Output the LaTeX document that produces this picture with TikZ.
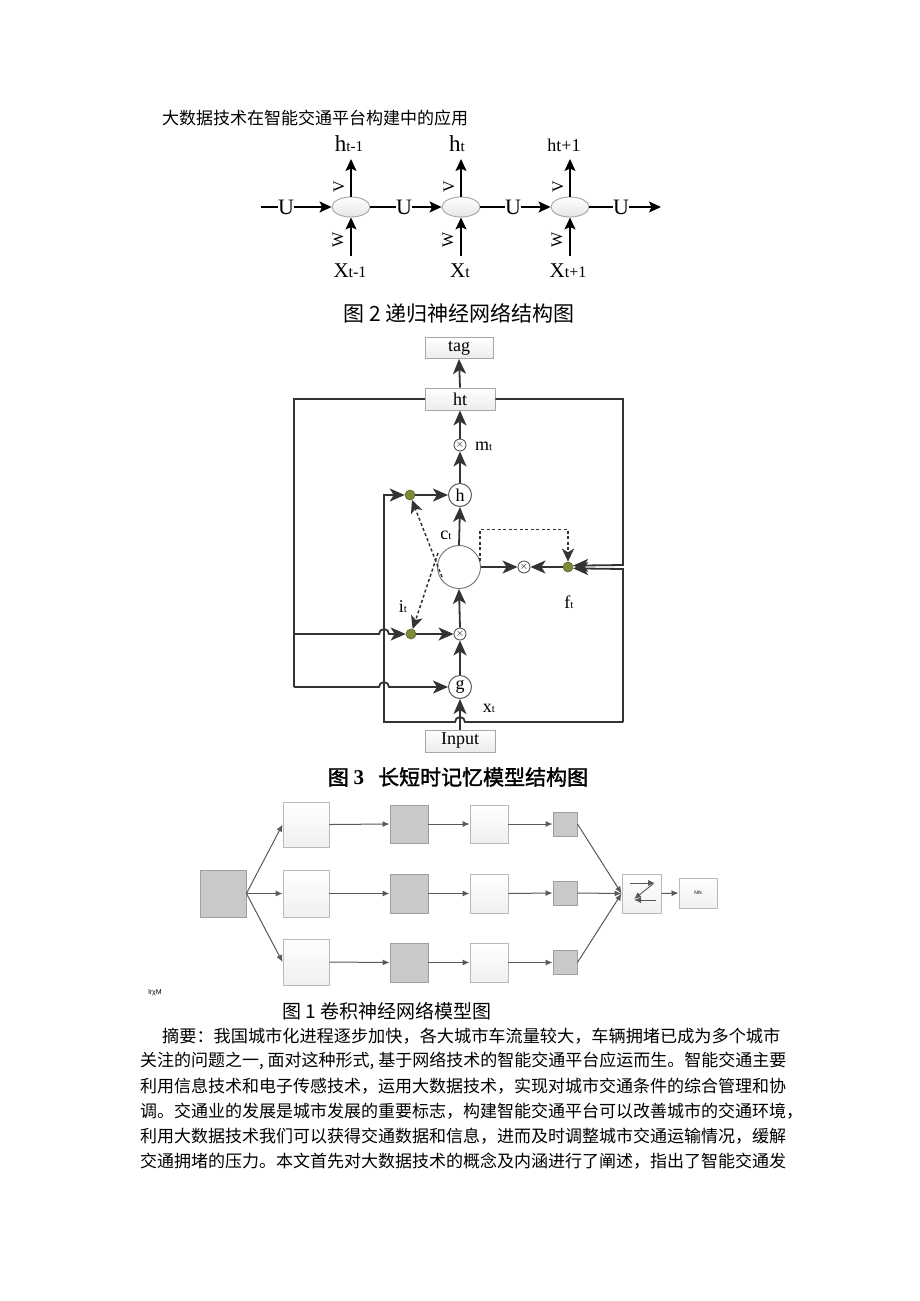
\documentclass[tikz,border=0pt]{standalone}
\usepackage{fontspec}
\setmainfont{Liberation Serif}
\newfontfamily\cjk{Noto Sans CJK SC}
\newfontfamily\cjkb[FakeBold=1.6]{Noto Sans CJK SC}
\newfontfamily\lsans{Liberation Sans}
\usetikzlibrary{arrows.meta,shapes.geometric}
\tikzset{
  rnncell/.style={ellipse, draw=gray!70, top color=white, bottom color=gray!20, line width=0.9pt, minimum width=38pt, minimum height=20pt, inner sep=0pt},
  rnnline/.style={draw=black, line width=1.3pt},
  rnnarr/.style={rnnline, -{Stealth[length=12pt,width=11pt,inset=2.5pt]}},
  ulbl/.style={inner sep=0pt, font=\fontsize{22}{22}\selectfont},
  vw/.style={inner sep=0pt, rotate=90, font=\fontsize{16}{16}\selectfont},
  lline/.style={draw=black!80, line width=1.8pt},
  larr/.style={lline, -{Stealth[length=15pt,width=13pt,inset=4pt]}},
  ldash/.style={draw=black!80, line width=1.5pt, dash pattern=on 3pt off 2.5pt, -{Stealth[length=13pt,width=12pt,inset=3.5pt]}},
  gdot/.style={circle, fill=olivegreen, draw=olivedark, line width=0.6pt, minimum size=10pt, inner sep=0pt},
  lcirc/.style={circle, draw=black!65, fill=white, line width=1pt, minimum size=23pt, inner sep=0pt, font=\fontsize{18}{18}\selectfont},
  otim/.style={circle, draw=black!65, fill=white, line width=0.9pt, minimum size=12pt, inner sep=0pt, font=\fontsize{11}{11}\selectfont},
  lbox/.style={rectangle, draw=gray!70, top color=white, bottom color=gray!15, line width=0.9pt, minimum width=70pt, minimum height=22pt, inner sep=0pt, font=\fontsize{18}{18}\selectfont},
  cwhite/.style={rectangle, draw=gray!55, top color=white, bottom color=gray!12, line width=0.9pt, inner sep=0pt},
  cgray/.style={rectangle, draw=gray!75, fill=gray!42, line width=0.9pt, inner sep=0pt},
  carr/.style={draw=black!65, line width=1pt, -{Latex[length=7pt,width=6pt]}},
  body/.style={anchor=west, inner sep=0pt, font=\cjk\fontsize{17}{17}\selectfont},
}
\definecolor{olivegreen}{HTML}{7B8C3C}
\definecolor{olivedark}{HTML}{56632A}
\begin{document}
\begin{tikzpicture}[x=1pt,y=-1pt]
\useasboundingbox[fill=white] (0,0) rectangle (920,1301);

% header
\node[anchor=west, inner sep=0pt, font=\cjk\fontsize{17}{17}\selectfont] (hdr) at (162,118) {大数据技术在智能交通平台构建中的应用};

% ---------------- RNN ----------------
\node[rnncell] (c1) at (351,207) {};
\node[rnncell] (c2) at (461,207) {};
\node[rnncell] (c3) at (570,207) {};
\coordinate (s0) at (261,207);
\node[ulbl] (u0) at (286,207) {U};
\node[ulbl] (u1) at (404,207) {U};
\node[ulbl] (u2) at (513,207) {U};
\node[ulbl] (u3) at (621,207) {U};
\coordinate (e3) at (661,207);
\draw[rnnline] (s0) -- (u0.west);
\draw[rnnarr] (u0.east) -- (c1.west);
\draw[rnnline] (c1.east) -- (u1.west);
\draw[rnnarr] (u1.east) -- (c2.west);
\draw[rnnline] (c2.east) -- (u2.west);
\draw[rnnarr] (u2.east) -- (c3.west);
\draw[rnnline] (c3.east) -- (u3.west);
\draw[rnnarr] (u3.east) -- (e3);

\foreach \i/\x in {1/351,2/461,3/570}{
  \coordinate (top\i) at (\x,159);
  \coordinate (bot\i) at (\x,256);
  \draw[rnnarr] (c\i.north) -- (top\i);
  \draw[rnnarr] (bot\i) -- (c\i.south);
  \node[vw] (v\i) at (\x-12,187) {V};
  \node[vw] (w\i) at (\x-13,240) {W};
}
\node[inner sep=0pt] (h1) at (349,144) {\fontsize{23}{23}\selectfont h\fontsize{15}{15}\selectfont t-1};
\node[inner sep=0pt] (h2) at (457,144) {\fontsize{23}{23}\selectfont h\fontsize{15}{15}\selectfont t};
\node[inner sep=0pt] (h3) at (564,145) {\fontsize{18}{18}\selectfont ht+1};
\node[inner sep=0pt] (x1) at (350,271) {\fontsize{21}{21}\selectfont X\fontsize{16}{16}\selectfont t-1};
\node[inner sep=0pt] (x2) at (460,271) {\fontsize{21}{21}\selectfont X\fontsize{16}{16}\selectfont t};
\node[inner sep=0pt] (x3) at (568,271) {\fontsize{21}{21}\selectfont X\fontsize{16}{16}\selectfont t+1};

\node[inner sep=0pt, font=\cjk\fontsize{21}{21}\selectfont] (cap2) at (459,313) {图 2 递归神经网络结构图};

% ---------------- LSTM ----------------
\node[lbox, minimum width=68pt, minimum height=21pt] (tag) at (459,348) {tag};
\node[lbox] (ht) at (460,399) {ht};
\node[otim] (m) at (460,445) {$\times$};
\node[inner sep=0pt, anchor=west] (ml) at (475,446) {\fontsize{18}{18}\selectfont m\fontsize{11}{11}\selectfont t};
\node[lcirc] (h) at (460,495) {h};
\node[gdot] (gtop) at (410,495) {};
\node[circle, draw=black!55, fill=white, line width=0.9pt, minimum size=43pt, inner sep=0pt] (cell) at (459,567) {};
\node[otim] (xr) at (524,567) {$\times$};
\node[gdot] (fdot) at (568,567) {};
\node[gdot] (idot) at (411,634) {};
\node[otim] (xl) at (460,634) {$\times$};
\node[lcirc] (g) at (460,687) {g};
\node[lbox] (input) at (460,741) {Input};
\node[inner sep=0pt] (ctl) at (446,535) {\fontsize{18}{18}\selectfont c\fontsize{11}{11}\selectfont t};
\node[inner sep=0pt] (itl) at (403,607) {\fontsize{18}{18}\selectfont i\fontsize{11}{11}\selectfont t};
\node[inner sep=0pt] (ftl) at (569,602) {\fontsize{18}{18}\selectfont f\fontsize{11}{11}\selectfont t};
\node[inner sep=0pt] (xtl) at (489,708) {\fontsize{18}{18}\selectfont x\fontsize{11}{11}\selectfont t};

\draw[larr] (ht.north) -- (tag.south);
\draw[larr] (m.north) -- (ht.south);
\draw[larr] (h.north) -- (m.south);
\draw[larr] (cell.north) -- (h.south);
\draw[larr] (xl.north) -- (cell.south);
\draw[larr] (g.north) -- (xl.south);
\draw[larr] (input.north) -- (g.south);
\draw[larr] (cell.east) -- (xr.west);
\draw[larr] (fdot.west) -- (xr.east);
\draw[larr] (gtop.east) -- (h.west);
\draw[larr] (idot.east) -- (xl.west);

\coordinate (L1) at (294,399);
\coordinate (L2) at (294,634);
\coordinate (L3) at (294,687);
\coordinate (R1) at (623,399);
\coordinate (R2) at (623,565);
\coordinate (R3) at (623,569);
\coordinate (R4) at (623,722);
\coordinate (B1) at (384,722);
\coordinate (B2) at (384,495);
\draw[lline] (ht.west) -- (L1) -- (L3);
\draw[larr] (L2) -- (379,634) arc[start angle=180, end angle=360, radius=5] -- (idot.west);
\draw[larr] (L3) -- (379,687) arc[start angle=180, end angle=360, radius=5] -- (g.west);
\draw[larr] (ht.east) -- (R1) -- (R2) -- (fdot.15);
\draw[larr] (R4) -- (R3) -- (fdot.-15);
\draw[larr] (R4) -- (465,722) arc[start angle=0, end angle=-180, radius=5] -- (B1) -- (B2) -- (gtop.west);

\coordinate (d1) at (442,577);
\coordinate (d2) at (438,553);
\draw[ldash] (d1) -- (gtop);
\draw[ldash] (d2) -- (idot);
\draw[ldash] (cell.15) -- ++(0,-32) -| (fdot.north);

\node[inner sep=0pt, font=\cjkb\fontsize{21}{21}\selectfont] (cap3) at (458,777) {图 {\fontspec{Liberation Serif}\bfseries 3}\hspace{14pt}长短时记忆模型结构图};

% ---------------- CNN ----------------
\node[cgray, minimum width=46pt, minimum height=47pt] (in) at (223,893.5) {};
\node[cwhite, minimum width=46pt, minimum height=45pt] (a1) at (306,824.5) {};
\node[cwhite, minimum width=46pt, minimum height=47pt] (a2) at (306,893.5) {};
\node[cwhite, minimum width=46pt, minimum height=46pt] (a3) at (306,962) {};
\node[cgray, minimum width=38pt, minimum height=38pt] (b1) at (409,824) {};
\node[cgray, minimum width=38pt, minimum height=39pt] (b2) at (409,893.5) {};
\node[cgray, minimum width=38pt, minimum height=39pt] (b3) at (409,962.5) {};
\node[cwhite, minimum width=38pt, minimum height=38pt] (k1) at (489,824) {};
\node[cwhite, minimum width=38pt, minimum height=39pt] (k2) at (489,893.5) {};
\node[cwhite, minimum width=38pt, minimum height=39pt] (k3) at (489,962.5) {};
\node[cgray, minimum width=24pt, minimum height=24pt] (d1b) at (565,824) {};
\node[cgray, minimum width=24pt, minimum height=24pt] (d2b) at (565,893) {};
\node[cgray, minimum width=24pt, minimum height=24pt] (d3b) at (565,962.5) {};
\node[cwhite, minimum width=39pt, minimum height=39pt] (sw) at (641.5,893.5) {};
\node[cwhite, minimum width=38pt, minimum height=30pt, font=\lsans\fontsize{5}{5}\selectfont] (nn) at (698,893) {NN};

\draw[carr] (in.east) -- (a1.west);
\draw[carr] (in.east) -- (a2.west);
\draw[carr] (in.east) -- (a3.west);
\foreach \i in {1,2,3}{
  \draw[carr] (a\i.east) -- (b\i.west);
  \draw[carr] (b\i.east) -- (k\i.west);
  \draw[carr] (k\i.east) -- (d\i b.west);
  \draw[carr] (d\i b.east) -- (sw.west);
}
\draw[carr] (sw.east) -- (nn.west);
\draw[carr, line width=0.9pt] (630,883) -- (655,883);
\draw[carr, line width=0.9pt] (653,884) -- (634,899);
\draw[carr, line width=0.9pt] (656,900) -- (634,900);

\node[inner sep=0pt, font=\lsans\fontsize{7}{7}\selectfont] (tiny) at (155,993) {lrχM};
\node[inner sep=0pt, font=\cjk\fontsize{19}{19}\selectfont] (cap1) at (387,1011) {图 1 卷积神经网络模型图};

% ---------------- body text ----------------
\node[body] (t1) at (162,1036) {\scalebox{1.01}[1]{摘要：我国城市化进程逐步加快，各大城市车流量较大，车辆拥堵已成为多个城市}};
\node[body] (t2) at (140,1061) {关注的问题之一, 面对这种形式, 基于网络技术的智能交通平台应运而生。智能交通主要};
\node[body] (t3) at (140,1086) {利用信息技术和电子传感技术，运用大数据技术，实现对城市交通条件的综合管理和协};
\node[body] (t4) at (140,1111) {调。交通业的发展是城市发展的重要标志，构建智能交通平台可以改善城市的交通环境，};
\node[body] (t5) at (140,1136) {利用大数据技术我们可以获得交通数据和信息，进而及时调整城市交通运输情况，缓解};
\node[body] (t6) at (140,1161) {交通拥堵的压力。本文首先对大数据技术的概念及内涵进行了阐述，指出了智能交通发};
\end{tikzpicture}
\end{document}
